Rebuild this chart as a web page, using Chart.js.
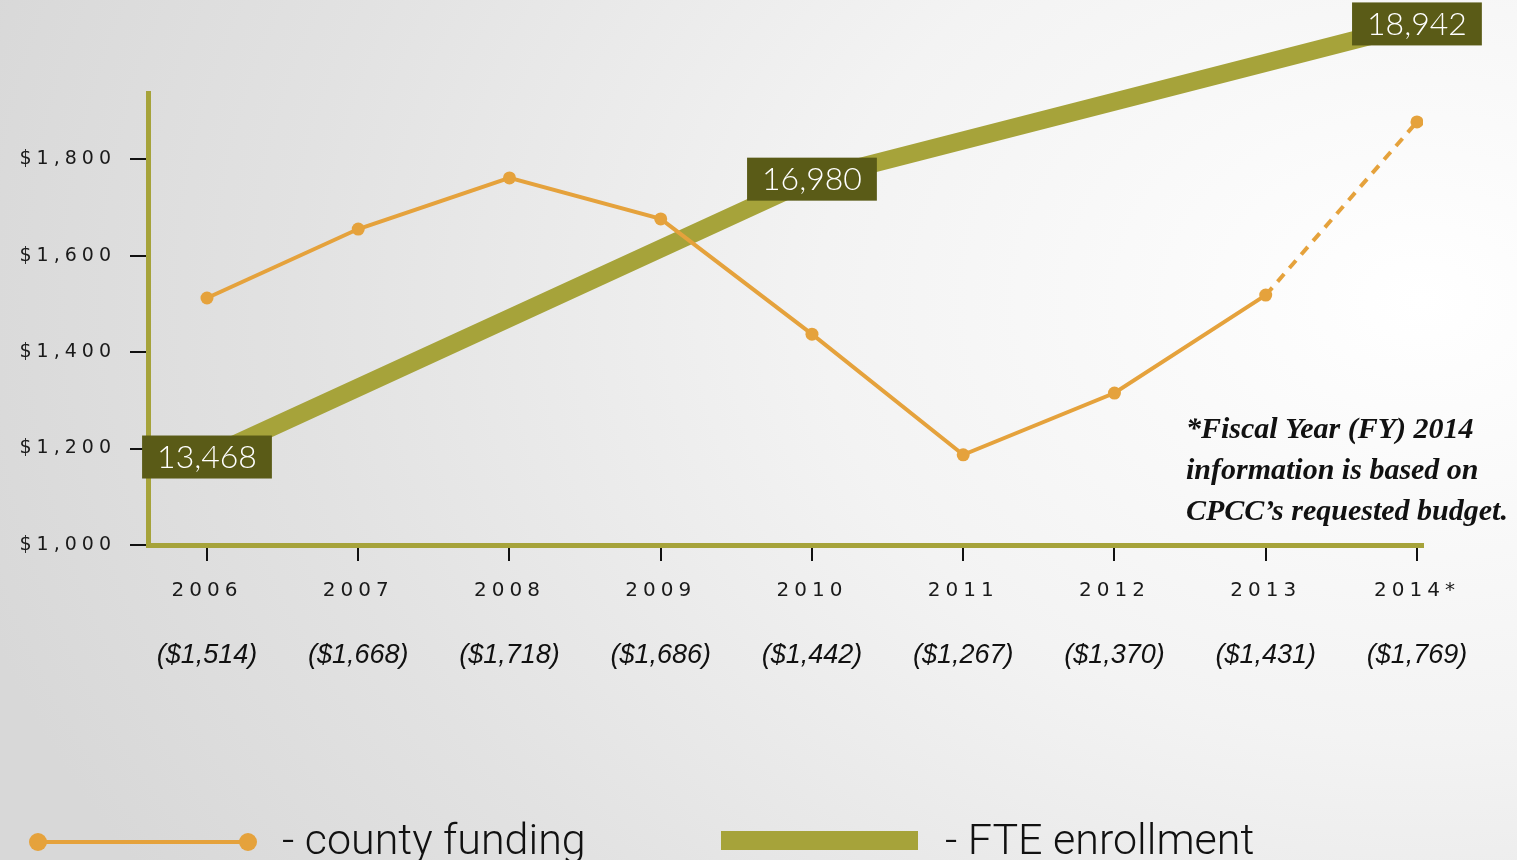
<!DOCTYPE html>
<html>
<head>
<meta charset="utf-8">
<script src="https://cdn.jsdelivr.net/npm/chart.js@4.4.1/dist/chart.umd.min.js"></script>
<style>
  html, body { margin: 0; padding: 0; }
  body {
    width: 1517px; height: 860px; overflow: hidden;
    background: radial-gradient(ellipse 1500px 1100px at 1420px 300px, #ffffff 0%, #f3f3f3 40%, #e2e2e2 75%, #d8d8d8 100%);
  }
  #wrap { width: 1517px; height: 860px; position: relative; }
  canvas { display: block; }
</style>
</head>
<body>
<div id="wrap"><canvas id="chart" width="1517" height="860"></canvas></div>
<script>
// values
const years = ['2006', '2007', '2008', '2009', '2010', '2011', '2012', '2013', '2014*']
const fundingLabels = ['($1,514)', '($1,668)', '($1,718)', '($1,686)', '($1,442)', '($1,267)', '($1,370)', '($1,431)', '($1,769)']
const fundingPlotted = [1512, 1655, 1761, 1676, 1437, 1187, 1315, 1518, 1877]
const fteEnrollment = [13468, null, null, null, 16980, null, null, null, 18942]
const noteLines = ['*Fiscal Year (FY) 2014', 'information is based on', 'CPCC\u2019s requested budget.']

const ORANGE = '#e5a23c'
const OLIVE = '#a6a33a'
const DARK_OLIVE = '#5a5b17'

const points = arr => arr.map((v, i) => ({ x: i, y: v }))

// wide tracking for the axis labels only
const spacing = {
    id: 'spacing',
    beforeDraw(chart) { chart.ctx.letterSpacing = '5px' },
    beforeDatasetsDraw(chart) { chart.ctx.letterSpacing = '0px' },
}

const extras = {
    id: 'extras',
    afterDatasetsDraw(chart) {
        const ctx = chart.ctx
        const meta = chart.getDatasetMeta(1)
        ctx.save()
        ctx.font = '300 32px Lato'
        ctx.textAlign = 'center'
        ctx.textBaseline = 'middle'
        fteEnrollment.forEach((v, i) => {
            if (v === null) return
            const pt = meta.data[i]
            const txt = v.toLocaleString('en-US')
            const w = ctx.measureText(txt).width + 30
            const h = 43
            ctx.fillStyle = DARK_OLIVE
            ctx.fillRect(pt.x - w / 2, pt.y - h / 2, w, h)
            ctx.fillStyle = '#fff'
            ctx.fillText(txt, pt.x, pt.y + 1)
        })
        ctx.restore()
    },
    afterDraw(chart) {
        const ctx = chart.ctx
        ctx.save()
        ctx.letterSpacing = '0px'
        // footnote
        ctx.fillStyle = '#111'
        ctx.font = 'italic bold 30px "Liberation Serif"'
        ctx.textAlign = 'left'
        ctx.textBaseline = 'alphabetic'
        noteLines.forEach((t, i) => ctx.fillText(t, 1186, 438 + i * 41))

        // legend
        ctx.strokeStyle = ORANGE
        ctx.lineWidth = 4
        ctx.beginPath()
        ctx.moveTo(38, 842)
        ctx.lineTo(248, 842)
        ctx.stroke()
        ctx.fillStyle = ORANGE
        ;[38, 248].forEach(x => {
            ctx.beginPath()
            ctx.arc(x, 842, 9, 0, Math.PI * 2)
            ctx.fill()
        })
        ctx.fillStyle = OLIVE
        ctx.fillRect(721, 831, 197, 19)
        ctx.fillStyle = '#111'
        ctx.font = '300 43px Roboto'
        ctx.fillText('- county funding', 282, 854)
        ctx.fillText('- FTE enrollment', 945, 854)
        ctx.restore()
    },
}

const ctx = document.getElementById('chart')
new Chart(ctx, {
    type: 'line',
    data: {
        datasets: [{
            label: 'county funding',
            data: points(fundingPlotted),
            borderColor: ORANGE,
            backgroundColor: ORANGE,
            borderWidth: 4,
            pointRadius: 6.5,
            pointBorderWidth: 0,
            tension: 0,
            yAxisID: 'y',
            xAxisID: 'x',
            segment: {
                borderDash: c => years[c.p1DataIndex].endsWith('*') ? [10, 8] : undefined,
            },
        }, {
            label: 'FTE enrollment',
            data: points(fteEnrollment),
            borderColor: OLIVE,
            backgroundColor: OLIVE,
            borderWidth: 18,
            borderCapStyle: 'butt',
            pointRadius: 0,
            spanGaps: true,
            tension: 0,
            clip: false,
            yAxisID: 'y1',
            xAxisID: 'x',
        }]
    },
    options: {
        responsive: false,
        animation: false,
        layout: { padding: { top: 93, right: 94, bottom: 165, left: 0 } },
        plugins: { legend: { display: false }, tooltip: { enabled: false } },
        scales: {
            x: {
                type: 'linear',
                position: 'bottom',
                weight: 0,
                min: -0.39,
                max: 8.04,
                afterFit: s => { s.height = 70 },
                grid: { drawOnChartArea: false, tickLength: 16, color: '#111', lineWidth: 2 },
                border: { color: OLIVE, width: 5 },
                ticks: {
                    stepSize: 1, includeBounds: false, autoSkip: false, maxRotation: 0,
                    padding: 18, color: '#1a1a1a',
                    font: { family: 'DejaVu Sans', size: 20 },
                    callback: v => years[v],
                },
            },
            x2: {
                type: 'linear',
                axis: 'x',
                position: 'bottom',
                weight: 1,
                min: -0.39,
                max: 8.04,
                afterFit: s => { s.height = 80 },
                grid: { display: false },
                border: { display: false },
                ticks: {
                    z: 1,
                    stepSize: 1, includeBounds: false, autoSkip: false, maxRotation: 0,
                    padding: 16, color: '#111',
                    font: { family: '"Liberation Sans Narrow", "Liberation Sans"', size: 27, style: 'italic' },
                    callback: v => fundingLabels[v],
                },
            },
            y: {
                position: 'left',
                min: 1000,
                max: 1937,
                afterFit: s => { s.width = 148 },
                grid: { drawOnChartArea: false, tickLength: 18, color: '#111', lineWidth: 2 },
                border: { color: OLIVE, width: 5 },
                ticks: {
                    stepSize: 200, includeBounds: false, padding: 14, color: '#1a1a1a',
                    font: { family: 'DejaVu Sans', size: 19 },
                    callback: v => '$' + v.toLocaleString('en-US'),
                },
            },
            y1: {
                display: false,
                position: 'right',
                min: 12356,
                max: 18069,
            },
        },
    },
    plugins: [spacing, extras],
})
</script>
</body>
</html>
